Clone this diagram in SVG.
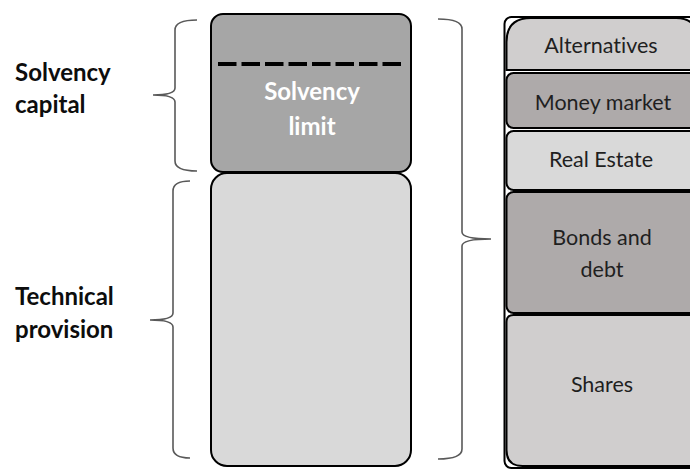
<svg xmlns="http://www.w3.org/2000/svg" width="690" height="471" viewBox="0 0 690 471">
<style>
text{font-variant-ligatures:none}
.box{stroke:#000;stroke-width:2}
.lbl{font-family:Lato,"Liberation Sans",sans-serif;font-weight:bold;font-size:24px;fill:#0d0d0d}
.in{font-family:Lato,"Liberation Sans",sans-serif;font-size:21.5px;fill:#1f1f1f;text-anchor:middle}
.wl{font-family:Lato,"Liberation Sans",sans-serif;font-weight:bold;font-size:24px;fill:#fff;text-anchor:middle}
.brace{fill:none;stroke:#595959;stroke-width:1.6}
</style>
<rect width="690" height="471" fill="#fff"/>
<g id="connectors">
<path class="brace" d="M197,20 Q175,20 175,30 L175,88 Q175,95 153,95 Q175,95 175,102 L175,161 Q175,171 197,171"/>
<path class="brace" d="M190,181 Q173,181 173,191 L173,313 Q173,320 150,320 Q173,320 173,327 L173,448 Q173,458 190,458"/>
<path class="brace" d="M438,19 Q462,19 462,29 L462,232 Q462,239 491,239 Q462,239 462,246 L462,449 Q462,459 438,459"/>
</g>
<g id="solvency-capital-label"><text class="lbl" x="15" y="81">Solvency</text><text class="lbl" x="15" y="113">capital</text></g>
<g id="technical-provision-label"><text class="lbl" x="15" y="305">Technical</text><text class="lbl" x="15" y="338">provision</text></g>
<g id="solvency-box">
<rect class="box" x="211" y="14" width="200" height="158" rx="12" fill="#a6a6a6"/>
<line x1="218" y1="64" x2="404" y2="64" stroke="#000" stroke-width="4" stroke-dasharray="18.5,5"/>
<text class="wl" x="312" y="100">Solvency</text>
<text class="wl" x="312" y="135">limit</text>
</g>
<g id="technical-box"><rect class="box" x="211" y="173" width="200" height="293" rx="16" fill="#d9d9d9"/></g>
<g id="assets">
<rect class="box" x="504.5" y="17" width="200" height="451" rx="7" fill="#fff"/>
<g id="alternatives"><path class="box" d="M506.5,70 L506.5,42 Q506.5,18 531,18 L676,18 Q698,18 698,42 L698,70 Z" fill="#d0cece"/><text class="in" x="601" y="53">Alternatives</text></g>
<g id="money-market"><rect class="box" x="506.5" y="73" width="200" height="55" rx="7" fill="#aeaaaa"/><text class="in" x="603" y="110">Money market</text></g>
<g id="real-estate"><rect class="box" x="506.5" y="131" width="200" height="59" rx="7" fill="#d9d9d9"/><text class="in" x="601" y="167">Real Estate</text></g>
<g id="bonds"><rect class="box" x="506.5" y="192" width="200" height="121" rx="7" fill="#aeaaaa"/><text class="in" x="602" y="245">Bonds and</text><text class="in" x="602" y="277">debt</text></g>
<g id="shares"><path class="box" d="M513.5,315 L700,315 L700,466 L522.5,466 Q506.5,466 506.5,450 L506.5,322 Q506.5,315 513.5,315 Z" fill="#d0cece"/><text class="in" x="602" y="392">Shares</text></g>
</g>
</svg>
